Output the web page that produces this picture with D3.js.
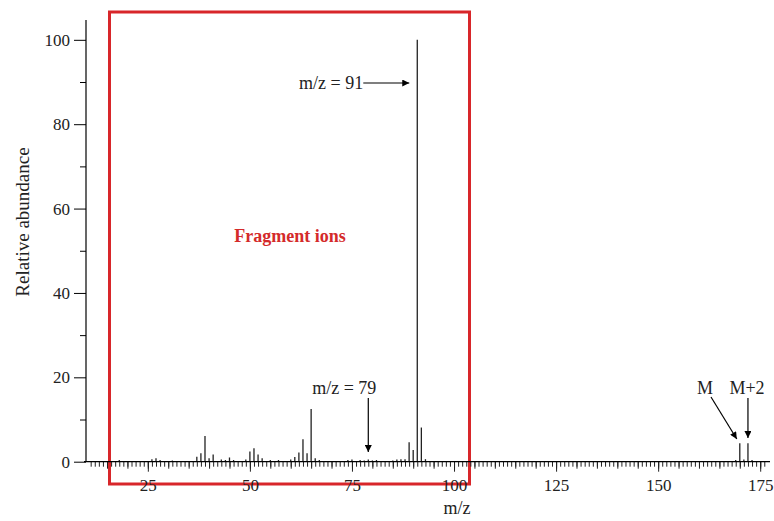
<!DOCTYPE html>
<html><head><meta charset="utf-8">
<script src="https://cdn.jsdelivr.net/npm/d3@7"></script>
<style>body{margin:0;background:#fff}svg{display:block}text{font-family:"Liberation Serif","DejaVu Serif",serif}</style>
</head><body><div id="chart"></div>
<script>
const mzValues = [18, 26, 27, 28, 31, 37, 38, 39, 40, 41, 43, 44, 45, 46, 49, 50, 51, 52, 53, 55, 57, 60, 61, 62, 63, 64, 65, 66, 67, 74, 75, 77, 78, 79, 80, 81, 85, 86, 87, 88, 89, 90, 91, 92, 93, 169, 170, 171, 172, 173];
const abundance = [0.4, 0.6, 0.8, 0.4, 0.3, 1.2, 2.0, 6.1, 0.8, 1.7, 0.5, 0.4, 1.0, 0.4, 0.5, 2.4, 3.2, 1.7, 0.8, 0.4, 0.4, 0.5, 1.1, 2.2, 5.3, 2.0, 12.5, 0.8, 0.4, 0.4, 0.5, 0.4, 0.3, 0.5, 0.3, 0.4, 0.3, 0.5, 0.6, 0.6, 4.6, 2.8, 100, 8.1, 0.6, 0.4, 4.4, 0.5, 4.4, 0.4];
const xTickLabels = [25, 50, 75, 100, 125, 150, 175];
const yTickLabels = [0, 20, 40, 60, 80, 100];
const annotations = [
  {text: "m/z = 91", mz: 91},
  {text: "m/z = 79", mz: 79},
  {text: "M", mz: 170},
  {text: "M+2", mz: 172}
];

const W = 774, H = 521;
const svg = d3.select("#chart").append("svg").attr("width", W).attr("height", H);
const x = d3.scaleLinear().domain([10, 177.4]).range([86.6, 770]);
const y = d3.scaleLinear().domain([0, 104.7]).range([461.7, 20]);

const defs = svg.append("defs");
defs.append("marker").attr("id", "arr").attr("viewBox", "0 0 10 10").attr("refX", 10).attr("refY", 5)
  .attr("markerWidth", 11).attr("markerHeight", 7).attr("markerUnits", "userSpaceOnUse").attr("orient", "auto")
  .append("path").attr("d", "M0,0L10,5L0,10z").attr("fill", "#000");

// red box
svg.append("rect").attr("x", 109.5).attr("y", 12).attr("width", 360).attr("height", 472)
  .attr("fill", "none").attr("stroke", "#d8262a").attr("stroke-width", 3);

// peaks
svg.append("g").selectAll("line").data(mzValues).join("line")
  .attr("x1", d => x(d)).attr("x2", d => x(d))
  .attr("y1", y(0)).attr("y2", (d, i) => y(abundance[i]))
  .attr("stroke", "#222").attr("stroke-width", 1.3);

// x axis
const xAxisG = svg.append("g").attr("transform", `translate(0,${y(0)})`);
xAxisG.append("g").call(d3.axisBottom(x).tickValues(d3.range(11, 177)).tickSize(5).tickFormat(""))
  .call(g => g.select(".domain").remove());
xAxisG.append("g").call(d3.axisBottom(x).tickValues(d3.range(15, 177, 5)).tickSize(7).tickFormat(""))
  .call(g => g.select(".domain").remove());
xAxisG.append("g").call(d3.axisBottom(x).tickValues(xTickLabels).tickSize(10).tickPadding(7).tickFormat(d3.format("d")))
  .call(g => g.select(".domain").remove())
  .call(g => g.selectAll("text").attr("font-size", 17).attr("fill", "#222").attr("font-family", "Liberation Serif"));
xAxisG.append("line").attr("x1", 84).attr("x2", 770).attr("stroke", "#000").attr("stroke-width", 1.2);
xAxisG.selectAll(".tick line").attr("stroke", "#222");

// y axis
const yAxisG = svg.append("g").attr("transform", `translate(86,0)`);
yAxisG.append("g").call(d3.axisLeft(y).tickValues(d3.range(10, 101, 20)).tickSize(6).tickFormat(""))
  .call(g => g.select(".domain").remove());
yAxisG.append("g").call(d3.axisLeft(y).tickValues(yTickLabels).tickSize(12).tickPadding(4).tickFormat(d3.format("d")))
  .call(g => g.select(".domain").remove())
  .call(g => g.selectAll("text").attr("font-size", 17).attr("fill", "#222").attr("font-family", "Liberation Serif"));
yAxisG.append("line").attr("y1", 20).attr("y2", y(0)).attr("stroke", "#000").attr("stroke-width", 1.2);

// axis titles
svg.append("text").attr("x", 457).attr("y", 514).attr("text-anchor", "middle").attr("font-size", 18).attr("fill", "#222").text("m/z");
svg.append("text").attr("transform", "translate(29,222) rotate(-90)").attr("text-anchor", "middle")
  .attr("font-size", 19).attr("fill", "#222").text("Relative abundance");

// fragment ions label
svg.append("text").attr("x", 290).attr("y", 242).attr("text-anchor", "middle").attr("font-size", 18)
  .attr("font-weight", "bold").attr("fill", "#d42a2a").text("Fragment ions");

// annotations
const a91 = annotations[0];
svg.append("text").attr("x", x(a91.mz) - 54).attr("y", 89).attr("text-anchor", "end").attr("font-size", 18).attr("fill", "#222").text(a91.text);
svg.append("line").attr("x1", x(a91.mz) - 54).attr("x2", x(a91.mz) - 8).attr("y1", 83).attr("y2", 83)
  .attr("stroke", "#000").attr("stroke-width", 1.2).attr("marker-end", "url(#arr)");

const a79 = annotations[1];
svg.append("text").attr("x", x(a79.mz) - 24).attr("y", 394).attr("text-anchor", "middle").attr("font-size", 18).attr("fill", "#222").text(a79.text);
svg.append("line").attr("x1", x(a79.mz)).attr("x2", x(a79.mz)).attr("y1", 398).attr("y2", 452)
  .attr("stroke", "#000").attr("stroke-width", 1.2).attr("marker-end", "url(#arr)");

const aM = annotations[2];
svg.append("text").attr("x", 705).attr("y", 394).attr("text-anchor", "middle").attr("font-size", 18).attr("fill", "#222").text(aM.text);
svg.append("line").attr("x1", 711).attr("y1", 397).attr("x2", x(aM.mz) - 3).attr("y2", 439)
  .attr("stroke", "#000").attr("stroke-width", 1.2).attr("marker-end", "url(#arr)");

const aM2 = annotations[3];
svg.append("text").attr("x", 747).attr("y", 394).attr("text-anchor", "middle").attr("font-size", 18).attr("fill", "#222").text(aM2.text);
svg.append("line").attr("x1", x(aM2.mz)).attr("x2", x(aM2.mz)).attr("y1", 398).attr("y2", 438)
  .attr("stroke", "#000").attr("stroke-width", 1.2).attr("marker-end", "url(#arr)");
</script></body></html>
